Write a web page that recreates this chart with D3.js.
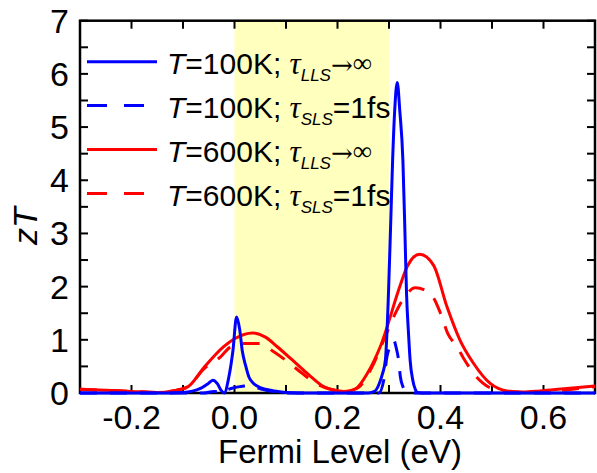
<!DOCTYPE html>
<html><head><meta charset="utf-8">
<script src="https://cdn.jsdelivr.net/npm/d3@7"></script>
<style>body{margin:0;background:#fff}svg{display:block}</style>
</head><body>
<svg id="c" width="597" height="473"></svg>
<script>
// ---- data (Fermi level in eV, zT) ----
const blueSolidX = [-0.30,-0.15,-0.10,-0.065,-0.052,-0.042,-0.033,-0.026,-0.020,-0.011,-0.003,0.004,0.010,0.015,0.022,0.028,0.036,0.044,0.060,0.076,0.10,0.15,0.26,0.272,0.280,0.287,0.293,0.299,0.303,0.307,0.311,0.316,0.321,0.327,0.331,0.334,0.338,0.341,0.346,0.351,0.356,0.37,0.70];
const blueSolidY = [0,0,0.01,0.09,0.17,0.24,0.17,0.05,0.0,0.3,0.8,1.43,1.2,0.8,0.5,0.3,0.19,0.13,0.07,0.04,0.01,0,0,0.03,0.15,0.35,0.62,1.88,3.1,4.37,5.3,5.84,5.3,4.37,3.0,1.88,1.1,0.62,0.25,0.07,0.01,0,0];
const blueDashX = [-0.30,-0.06,-0.04,-0.02,-0.014,0.018,0.03,0.05,0.08,0.10,0.28,0.29,0.296,0.303,0.309,0.314,0.319,0.322,0.327,0.333,0.34,0.70];
const blueDashY = [0,0,0.03,0.0,0.06,0.13,0.14,0.08,0.02,0,0,0.25,0.68,0.9,1.0,0.85,0.59,0.31,0.12,0.03,0,0];
const redSolidX = [-0.30,-0.25,-0.20,-0.15,-0.12,-0.09,-0.06,-0.021,0.0,0.035,0.06,0.083,0.11,0.134,0.155,0.173,0.195,0.212,0.235,0.258,0.283,0.322,0.335,0.3595,0.3866,0.4126,0.438,0.464,0.4965,0.529,0.56,0.593,0.64,0.70];
const redSolidY = [0.07,0.05,0.03,0.01,0.04,0.12,0.47,0.87,1.02,1.13,1.05,0.87,0.64,0.43,0.25,0.12,0.05,0.03,0.08,0.37,0.87,2.03,2.37,2.61,2.4,1.62,0.99,0.56,0.18,0.04,0.02,0.04,0.08,0.13];
const redDashX = [-0.30,-0.25,-0.20,-0.15,-0.12,-0.09,-0.06,-0.027,-0.007,0.02,0.05,0.077,0.103,0.13,0.16,0.19,0.215,0.24,0.265,0.29,0.309,0.33,0.351,0.38,0.40,0.414,0.432,0.445,0.47,0.50,0.53,0.60,0.70];
const redDashY = [0.07,0.05,0.03,0.01,0.04,0.12,0.45,0.68,0.87,0.93,0.93,0.77,0.59,0.38,0.17,0.06,0.03,0.1,0.45,1.0,1.43,1.8,1.98,1.87,1.50,1.12,0.87,0.65,0.3,0.08,0.02,0.03,0.12];
const xTicks = [-0.2,0.0,0.2,0.4,0.6];
const xMinor = [-0.3,-0.2,-0.1,0.0,0.1,0.2,0.3,0.4,0.5,0.6,0.7];
const yTicks = [0,1,2,3,4,5,6,7];
const yMinor = [0,0.5,1,1.5,2,2.5,3,3.5,4,4.5,5,5.5,6,6.5,7];
const shade = [0.0, 0.3];
const legendRows = [
  {T:"100K", sub:"LLS", tail:"inf", color:"#0000ff", dash:false},
  {T:"100K", sub:"SLS", tail:"=1fs", color:"#0000ff", dash:true},
  {T:"600K", sub:"LLS", tail:"inf", color:"#ff0000", dash:false},
  {T:"600K", sub:"SLS", tail:"=1fs", color:"#ff0000", dash:true}
];

const svg = d3.select("#c");
const L=80, R=595, T=20.7, B=393;
const x = d3.scaleLinear().domain([-0.3,0.7]).range([L,R]);
const y = d3.scaleLinear().domain([0,7]).range([B,T]);
const sans = "'Liberation Sans', Arial, sans-serif";
const serif = "'Liberation Serif', 'Times New Roman', serif";

svg.append("rect").attr("x",x(shade[0])).attr("y",T).attr("width",x(shade[1])-x(shade[0])).attr("height",B-T).attr("fill","#ffffbe");

// frame
svg.append("rect").attr("x",L).attr("y",T).attr("width",R-L).attr("height",B-T).attr("fill","none").attr("stroke","#000").attr("stroke-width",2.5);
const tl=8;
const tk = svg.append("g").attr("stroke","#000").attr("stroke-width",2);
xMinor.forEach(v=>{
  tk.append("line").attr("x1",x(v)).attr("x2",x(v)).attr("y1",B).attr("y2",B-tl);
  tk.append("line").attr("x1",x(v)).attr("x2",x(v)).attr("y1",T).attr("y2",T+tl);
});
yMinor.forEach(v=>{
  tk.append("line").attr("y1",y(v)).attr("y2",y(v)).attr("x1",L).attr("x2",L+tl);
  tk.append("line").attr("y1",y(v)).attr("y2",y(v)).attr("x1",R).attr("x2",R-tl);
});
svg.append("g").selectAll("text").data(xTicks).join("text")
  .attr("x",d=>x(d)).attr("y",429).attr("text-anchor","middle")
  .attr("font-family",sans).attr("font-size",34).text(d=>d3.format(".1f")(d).replace("−","-"));
svg.append("g").selectAll("text").data(yTicks).join("text")
  .attr("x",69).attr("y",d=>y(d)+12).attr("text-anchor","end")
  .attr("font-family",sans).attr("font-size",34).text(d=>d);

svg.append("text").attr("x",340).attr("y",463).attr("text-anchor","middle")
  .attr("font-family",sans).attr("font-size",33).text("Fermi Level (eV)");
svg.append("text").attr("transform","translate(37,226) rotate(-90)").attr("text-anchor","middle")
  .attr("font-family",sans).attr("font-size",34).attr("font-style","italic").text("zT");

// curves
const pts = (xs,ys)=>xs.map((v,i)=>[v,ys[i]]);
const line = d3.line().x(d=>x(d[0])).y(d=>y(d[1])).curve(d3.curveMonotoneX);
const series = [
  {d:pts(redSolidX,redSolidY), c:"#ff0000", dash:null},
  {d:pts(redDashX,redDashY), c:"#ff0000", dash:"17,13"},
  {d:pts(blueSolidX,blueSolidY), c:"#0000ff", dash:null},
  {d:pts(blueDashX,blueDashY), c:"#0000ff", dash:"17,13"}
];
series.forEach(s=>{
  svg.append("path").attr("d",line(s.d)).attr("fill","none").attr("stroke",s.c)
    .attr("stroke-width",3).attr("stroke-linejoin","round").attr("stroke-dasharray",s.dash);
});

// legend
legendRows.forEach((r,i)=>{
  const ly = 61.7 + i*43.9;
  svg.append("line").attr("x1",87).attr("x2",157).attr("y1",ly).attr("y2",ly)
    .attr("stroke",r.color).attr("stroke-width",3).attr("stroke-dasharray",r.dash?"20,17":null);
  const t = svg.append("text").attr("x",167).attr("y",ly+12.5).attr("font-family",sans).attr("font-size",30);
  t.append("tspan").attr("font-style","italic").text("T");
  t.append("tspan").text("="+r.T+"; ");
  t.append("tspan").attr("font-family",serif).attr("font-style","italic").attr("font-size",31).text("τ");
  t.append("tspan").attr("font-style","italic").attr("font-size",17).attr("dy",7).text(r.sub);
  if(r.tail==="inf"){
    t.append("tspan").attr("dy",-7).attr("font-family","'DejaVu Serif', serif").attr("font-size",26).text("→");
    t.append("tspan").attr("dy",-2).attr("font-family",serif).attr("font-size",27).text("∞");
  } else {
    t.append("tspan").attr("dy",-7).text(r.tail);
  }
});
</script>
</body></html>
